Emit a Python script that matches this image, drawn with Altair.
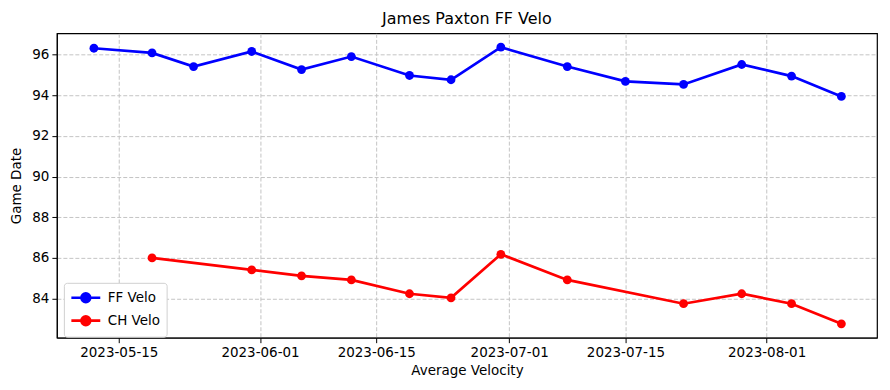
import altair as alt
import pandas as pd

ff_dates = ["2023-05-12", "2023-05-19", "2023-05-24", "2023-05-31", "2023-06-06",
            "2023-06-12", "2023-06-19", "2023-06-24", "2023-06-30", "2023-07-08",
            "2023-07-15", "2023-07-22", "2023-07-29", "2023-08-04", "2023-08-10"]
ff_velo = [96.31, 96.08, 95.41, 96.15, 95.26, 95.90, 94.97, 94.76, 96.36, 95.41,
           94.68, 94.53, 95.51, 94.94, 93.94]

ch_dates = ["2023-05-19", "2023-05-31", "2023-06-06", "2023-06-12", "2023-06-19",
            "2023-06-24", "2023-06-30", "2023-07-08", "2023-07-22", "2023-07-29",
            "2023-08-04", "2023-08-10"]
ch_velo = [86.00, 85.41, 85.12, 84.92, 84.24, 84.04, 86.18, 84.92, 83.75, 84.24,
           83.75, 82.76]

y_ticks = [84, 86, 88, 90, 92, 94, 96]
x_ticks = [(2023, 5, 15), (2023, 6, 1), (2023, 6, 15), (2023, 7, 1), (2023, 7, 15), (2023, 8, 1)]

df = pd.concat([
    pd.DataFrame({"date": [d + "T00:00:00" for d in ff_dates], "velo": ff_velo, "series": "FF Velo"}),
    pd.DataFrame({"date": [d + "T00:00:00" for d in ch_dates], "velo": ch_velo, "series": "CH Velo"}),
])

FONT = "DejaVu Sans"

x_enc = alt.X(
    "date:T",
    title="Average Velocity",
    scale=alt.Scale(domain=[alt.DateTime(year=2023, month=5, date=7, hours=13),
                            alt.DateTime(year=2023, month=8, date=14, hours=7)], nice=False),
    axis=alt.Axis(values=[alt.DateTime(year=y, month=m, date=d) for (y, m, d) in x_ticks],
                  format="%Y-%m-%d", labelAngle=0),
)
y_enc = alt.Y(
    "velo:Q",
    title="Game Date",
    scale=alt.Scale(domain=[82.08, 97.04], nice=False, zero=False),
    axis=alt.Axis(values=y_ticks),
)
color_enc = alt.Color(
    "series:N",
    scale=alt.Scale(domain=["FF Velo", "CH Velo"], range=["#0000ff", "#ff0000"]),
    legend=alt.Legend(
        title=None, orient="none", legendX=7, legendY=250,
        symbolType="M-2,0L2,0M-0.6,0a0.6,0.6 0 1,0 1.2,0a0.6,0.6 0 1,0 -1.2,0",
        symbolSize=210, symbolStrokeWidth=2.7,
        labelFontSize=13.5, labelFont=FONT, labelColor="#000000",
        rowPadding=3, padding=6, strokeColor="#d0d0d0", cornerRadius=3,
        fillColor="#ffffff", symbolOffset=7, labelOffset=13,
    ),
)

base = alt.Chart(df).encode(x=x_enc, y=y_enc, color=color_enc, detail="series:N")
lines = base.mark_line(strokeWidth=2.7)
points = base.mark_point(filled=True, size=78, opacity=1, shape="circle")

chart = alt.layer(lines, points).properties(
    width=822, height=305,
    title=alt.TitleParams("James Paxton FF Velo", font=FONT, fontSize=16, fontWeight="normal",
                          color="#000000", offset=6),
    padding={"left": 49, "top": 25, "right": 5, "bottom": 50},
    autosize=alt.AutoSizeParams(type="none"),
).configure_view(
    stroke="#000000", strokeWidth=1.2
).configure_axis(
    labelFont=FONT, labelFontSize=13.5, labelColor="#000000",
    titleFont=FONT, titleFontSize=13.5, titleColor="#000000", titleFontWeight="normal",
    grid=True, gridColor="#c4c4c4", gridDash=[4, 2], gridWidth=1,
    domainColor="#000000", tickColor="#000000", tickSize=5, labelPadding=3,
).configure_axisX(titlePadding=4).configure_axisY(titlePadding=8)

chart.save("out.html", embed_options={"renderer": "svg", "actions": False})
